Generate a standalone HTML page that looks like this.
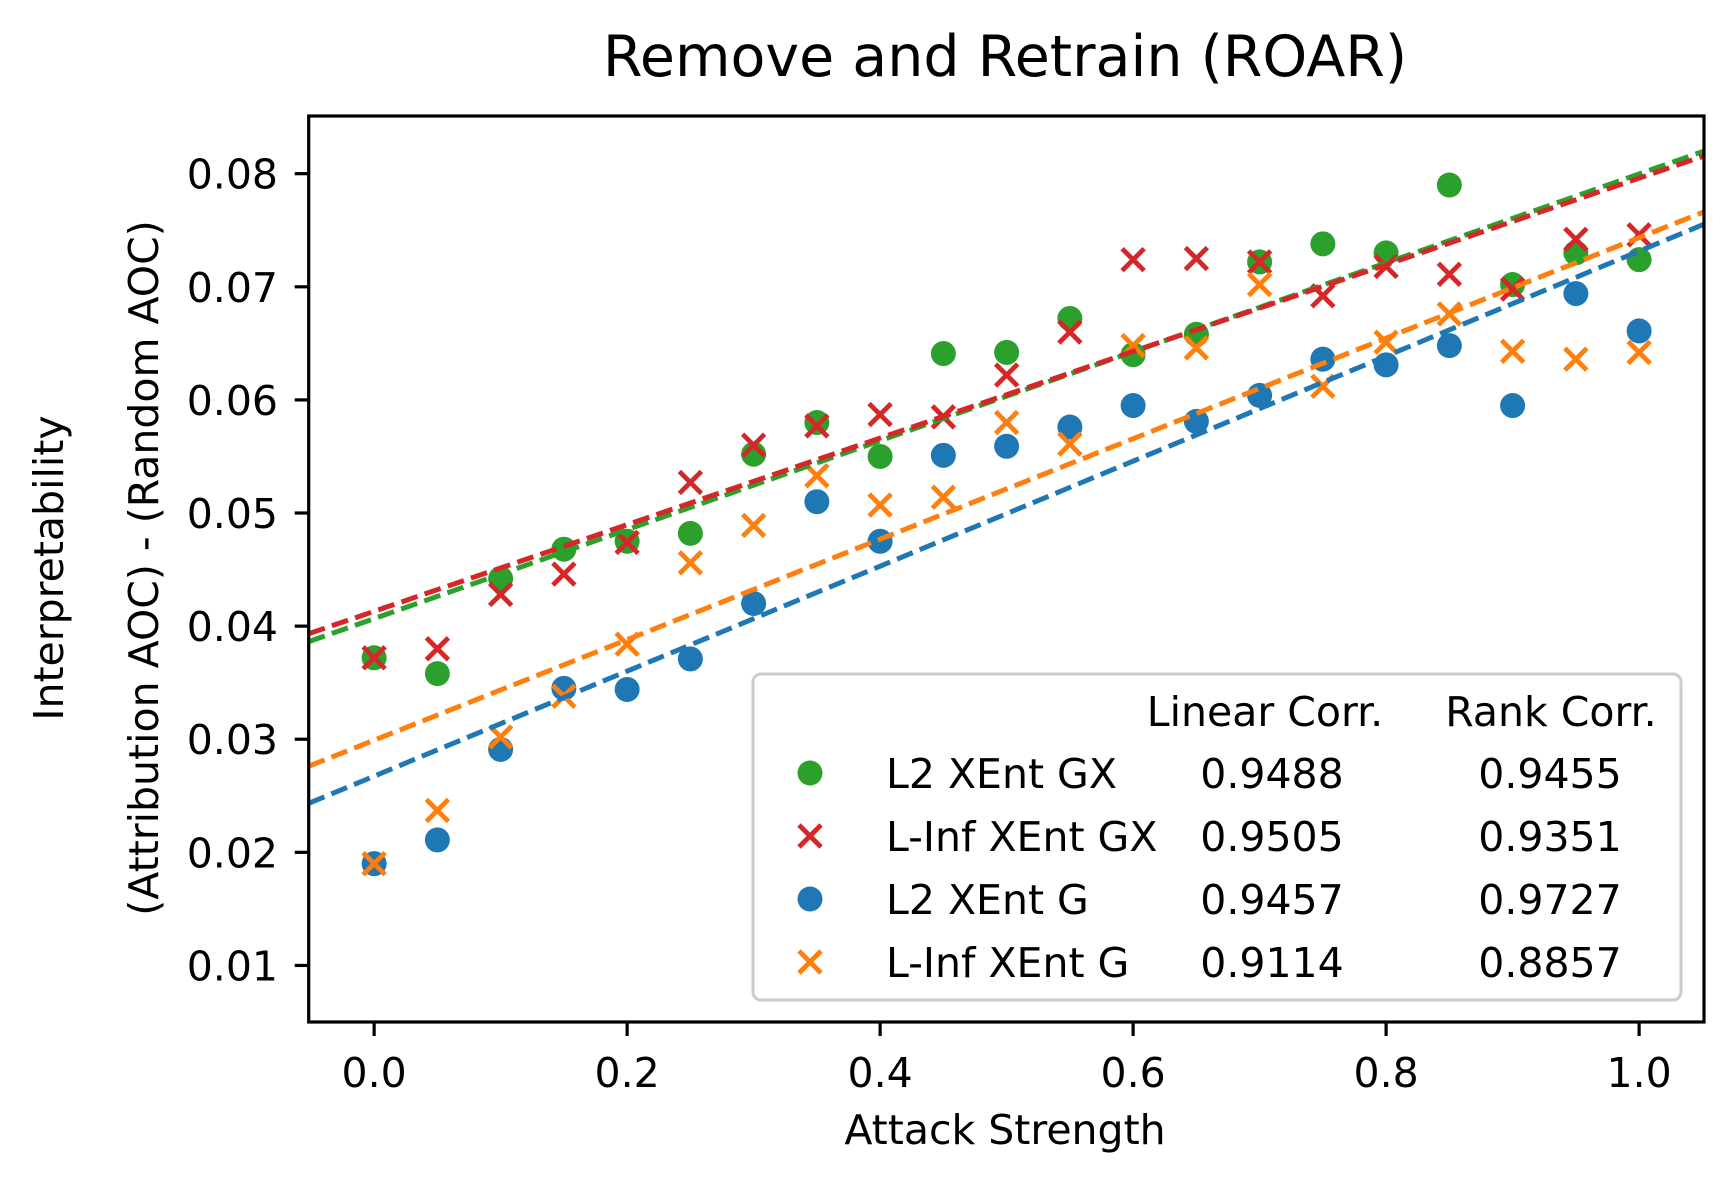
<!DOCTYPE html>
<html><head><meta charset="utf-8"><style>
html,body{margin:0;padding:0;background:#fff;}
svg{display:block;font-family:"DejaVu Sans","Liberation Sans",sans-serif;}
</style></head><body>
<svg id="chart" width="1736" height="1182" viewBox="0 0 1736 1182">
<text x="1005" y="76" font-size="57" text-anchor="middle">Remove and Retrain (ROAR)</text>
<text x="1005" y="1144" font-size="41" text-anchor="middle">Attack Strength</text>
<text transform="translate(63,568) rotate(-90)" font-size="41" text-anchor="middle">Interpretability</text>
<text transform="translate(158,568) rotate(-90)" font-size="41" text-anchor="middle">(Attribution AOC) - (Random AOC)</text>
<g id="marks"></g>
<g id="axes"></g>
<g id="legend"></g>
</svg>
<script>
const xs = [0,0.05,0.1,0.15,0.2,0.25,0.3,0.35,0.4,0.45,0.5,0.55,0.6,0.65,0.7,0.75,0.8,0.85,0.9,0.95,1.0];
const l2GX = [0.0372,0.0358,0.0442,0.0468,0.0475,0.0482,0.0552,0.0580,0.0550,0.0641,0.0642,0.0672,0.0640,0.0658,0.0722,0.0738,0.0730,0.0790,0.0702,0.0730,0.0724];
const linfGX = [0.0372,0.0380,0.0428,0.0446,0.0474,0.0527,0.0560,0.0577,0.0587,0.0585,0.0622,0.0660,0.0724,0.0725,0.0722,0.0692,0.0718,0.0711,0.0698,0.0742,0.0746];
const l2G = [0.0190,0.0211,0.0291,0.0345,0.0344,0.0371,0.0420,0.0510,0.0475,0.0551,0.0559,0.0576,0.0595,0.0581,0.0604,0.0636,0.0631,0.0648,0.0595,0.0694,0.0661];
const linfG = [0.0190,0.0237,0.0302,0.0338,0.0384,0.0456,0.0489,0.0533,0.0507,0.0514,0.0580,0.0561,0.0648,0.0646,0.0702,0.0612,0.0651,0.0676,0.0643,0.0636,0.0642];
const seriesNames = ["L2 XEnt GX","L-Inf XEnt GX","L2 XEnt G","L-Inf XEnt G"];
const linearCorr = ["0.9488","0.9505","0.9457","0.9114"];
const rankCorr = ["0.9455","0.9351","0.9727","0.8857"];
const xTicks = [0.0,0.2,0.4,0.6,0.8,1.0];
const xTickLabels = ["0.0","0.2","0.4","0.6","0.8","1.0"];
const yTicks = [0.01,0.02,0.03,0.04,0.05,0.06,0.07,0.08];
const yTickLabels = ["0.01","0.02","0.03","0.04","0.05","0.06","0.07","0.08"];

const NS="http://www.w3.org/2000/svg";
const L=308.7,R=1704,T=116,B=1022;
const xMin=-0.05172,xMax=1.0513,yMin=0.005,yMax=0.0851;
const sx=v=>L+(v-xMin)/(xMax-xMin)*(R-L);
const sy=v=>B-(v-yMin)/(yMax-yMin)*(B-T);
function mk(tag,attrs,parent){const e=document.createElementNS(NS,tag);for(const k in attrs)e.setAttribute(k,attrs[k]);parent.appendChild(e);return e;}
const marks=document.getElementById('marks');
const axes=document.getElementById('axes');
const leg=document.getElementById('legend');
const cp=mk('clipPath',{id:'clip'},marks);
mk('rect',{x:L,y:T,width:R-L,height:B-T},cp);

const defs=[
 {data:l2GX,color:"#2ca02c",shape:"o",key:"l2-xent-gx"},
 {data:linfGX,color:"#d62728",shape:"x",key:"linf-xent-gx"},
 {data:l2G,color:"#1f77b4",shape:"o",key:"l2-xent-g"},
 {data:linfG,color:"#ff7f0e",shape:"x",key:"linf-xent-g"}
];
function marker(g,shape,color,cx,cy){
  if(shape==="o"){return mk('circle',{cx:cx,cy:cy,r:12.5,fill:color},g);}
  const gg=mk('g',{stroke:color,'stroke-width':4.8},g);
  const d=11;
  mk('line',{x1:cx-d,y1:cy-d,x2:cx+d,y2:cy+d},gg);
  mk('line',{x1:cx-d,y1:cy+d,x2:cx+d,y2:cy-d},gg);
  return gg;
}
function fit(y){const n=xs.length;let mx=0,my=0;for(let i=0;i<n;i++){mx+=xs[i];my+=y[i];}mx/=n;my/=n;let sxy=0,sxx=0;for(let i=0;i<n;i++){sxy+=(xs[i]-mx)*(y[i]-my);sxx+=(xs[i]-mx)**2;}const b=sxy/sxx;return [my-b*mx,b];}
const clipG=mk('g',{'clip-path':'url(#clip)'},marks);
defs.forEach(s=>{
  const g=mk('g',{},clipG);
  
  
  s.data.forEach((v,i)=>{
    const m=marker(g,s.shape,s.color,sx(xs[i]),sy(v));
    
    
  });
});
defs.forEach(s=>{
  const [a,b]=fit(s.data);
  const ln=mk('line',{x1:sx(xMin),y1:sy(a+b*xMin),x2:sx(xMax),y2:sy(a+b*xMax),stroke:s.color,'stroke-width':5,'stroke-dasharray':'17,7.5'},clipG);
  
  
});
const frame=mk('rect',{x:L,y:T,width:R-L,height:B-T,fill:'none',stroke:'#000','stroke-width':3.2},axes);


xTicks.forEach((v,i)=>{
  const x=sx(v);
  const t=mk('line',{x1:x,y1:B,x2:x,y2:B+14,stroke:'#000','stroke-width':3.2},axes);
  
  
  const tx=mk('text',{x:x,y:1087,'font-size':41,'text-anchor':'middle'},axes);
  tx.textContent=xTickLabels[i];
  
  
});
yTicks.forEach((v,i)=>{
  const y=sy(v);
  const t=mk('line',{x1:L-14,y1:y,x2:L,y2:y,stroke:'#000','stroke-width':3.2},axes);
  
  
  const tx=mk('text',{x:278,y:y+15,'font-size':41,'text-anchor':'end'},axes);
  tx.textContent=yTickLabels[i];
  
  
});
const box=mk('rect',{x:753,y:674,width:928,height:326,rx:8,fill:'#fff','fill-opacity':0.85,stroke:'#ccc','stroke-width':3},leg);


const h1=mk('text',{x:1265,y:726,'font-size':41,'text-anchor':'middle'},leg);h1.textContent="Linear Corr.";


const h2=mk('text',{x:1551,y:726,'font-size':41,'text-anchor':'middle'},leg);h2.textContent="Rank Corr.";


defs.forEach((s,i)=>{
  const cy=773+i*63;
  const g=mk('g',{},leg);
  
  
  marker(g,s.shape,s.color,810,cy);
  const t1=mk('text',{x:886,y:cy+15,'font-size':41},g);t1.textContent=seriesNames[i];
  const t2=mk('text',{x:1272,y:cy+15,'font-size':41,'text-anchor':'middle'},g);t2.textContent=linearCorr[i];
  const t3=mk('text',{x:1550,y:cy+15,'font-size':41,'text-anchor':'middle'},g);t3.textContent=rankCorr[i];
});
</script>
</body></html>
